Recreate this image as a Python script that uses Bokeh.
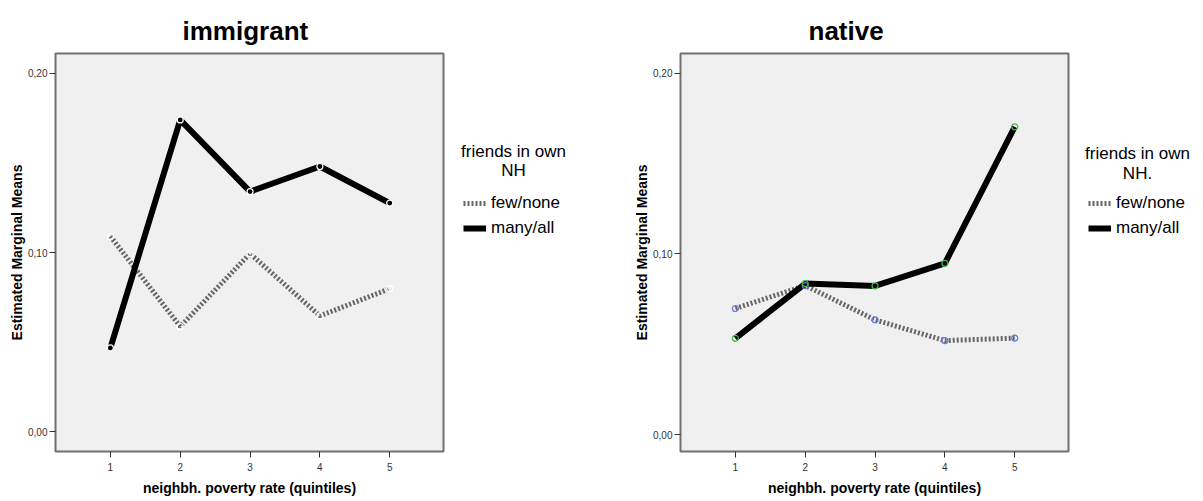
from bokeh.plotting import figure
from bokeh.layouts import row
from bokeh.models import Range1d, FixedTicker, CustomJSTickFormatter, Legend, LegendItem, Label
from bokeh.embed import file_html
from bokeh.resources import INLINE

# ---- data ----
quintiles = [1, 2, 3, 4, 5]
imm_few = [0.109, 0.0587, 0.0994, 0.0646, 0.0798]
imm_many = [0.0467, 0.174, 0.134, 0.148, 0.1276]
nat_few = [0.0698, 0.0825, 0.0635, 0.052, 0.0534]
nat_many = [0.0533, 0.0836, 0.0823, 0.0948, 0.1704]
y_ticks = [0.0, 0.1, 0.2]
series_labels = ["few/none", "many/all"]
legend_title = "friends in own"

FONT = "Liberation Sans"
FIG_H = 498
TOP = 53
FRAME_H = 400
BOTTOM = FIG_H - TOP - FRAME_H          # 45
FRAME_BOTTOM = TOP + FRAME_H            # 453 (page y of frame bottom)
FEW_STYLE = dict(line_color="#656565", line_width=5, line_dash="2 2")
MANY_STYLE = dict(line_color="black", line_width=6)


def make_panel(title, title_offset, few, many, left, y_lo, y_hi,
               few_mark, many_mark, many_fill):
    width = left + 388 + 2
    p = figure(width=width, height=FIG_H, output_backend="svg", toolbar_location=None,
               x_range=Range1d(0.214, 5.77), y_range=Range1d(y_lo, y_hi),
               min_border_left=left, min_border_right=2,
               min_border_top=TOP, min_border_bottom=BOTTOM)
    p.title.text = title
    p.title.align = "left"
    p.title.offset = title_offset
    p.title.standoff = 12
    p.title.vertical_align = "top"
    p.title.text_font = FONT
    p.title.text_font_size = "26px"
    p.title.text_font_style = "bold"
    p.title.text_color = "black"
    p.background_fill_color = "#f0f0f0"
    p.border_fill_color = "white"
    p.outline_line_color = "#707070"
    p.outline_line_width = 2
    p.grid.visible = False

    p.xaxis.ticker = FixedTicker(ticks=quintiles)
    p.yaxis.ticker = FixedTicker(ticks=y_ticks)
    p.yaxis.formatter = CustomJSTickFormatter(code="return tick.toFixed(2).replace('.', ',');")
    for ax in (p.xaxis, p.yaxis):
        ax.axis_line_color = None
        ax.major_tick_in = 0
        ax.major_tick_out = 6
        ax.major_tick_line_color = "#333333"
        ax.major_tick_line_width = 1
        ax.minor_tick_line_color = None
        ax.major_label_text_font = FONT
        ax.major_label_text_font_size = "10px"
        ax.major_label_text_color = "#333333"
        ax.axis_label_text_font = FONT
        ax.axis_label_text_font_size = "14px"
        ax.axis_label_text_font_style = "bold"
        ax.axis_label_text_color = "black"
    p.xaxis.axis_label = "neighbh. poverty rate (quintiles)"
    p.yaxis.axis_label = "Estimated Marginal Means"
    p.xaxis.major_label_standoff = 5
    p.yaxis.major_label_standoff = 2
    p.xaxis.axis_label_standoff = 6
    p.yaxis.axis_label_standoff = 0

    p.line(quintiles, few, **FEW_STYLE)
    p.line(quintiles, many, **MANY_STYLE)
    p.scatter(quintiles, few, size=6, fill_color=None, line_color=few_mark, line_width=1.2)
    p.scatter(quintiles, many, size=6, fill_color=many_fill, line_color=many_mark, line_width=1.2)
    return p


def make_legend(width, few, many, title_x, title_y, nh_label, nh_y, glyph_x):
    # separate panel for the key; its own data lies outside its ranges, only the key shows
    lp = figure(width=width, height=FIG_H, output_backend="svg", toolbar_location=None,
                x_range=Range1d(-2, -1), y_range=Range1d(-2, -1),
                x_axis_location=None, y_axis_location=None,
                min_border_left=0, min_border_right=0,
                min_border_top=TOP, min_border_bottom=BOTTOM)
    lp.grid.visible = False
    lp.outline_line_color = None
    lp.background_fill_color = "white"
    lp.border_fill_color = "white"
    r_few = lp.line(quintiles, few, **FEW_STYLE)
    r_many = lp.line(quintiles, many, **MANY_STYLE)
    legend = Legend(items=[LegendItem(label=series_labels[0], renderers=[r_few]),
                           LegendItem(label=series_labels[1], renderers=[r_many])],
                    location=(glyph_x, FRAME_BOTTOM - 240), padding=0, margin=0,
                    spacing=5, glyph_width=23, glyph_height=20, label_height=20,
                    label_standoff=5, border_line_color=None, background_fill_alpha=0,
                    label_text_font=FONT, label_text_font_size="17px",
                    label_text_color="black")
    lp.add_layout(legend)
    lp.add_layout(Label(x=title_x, y=FRAME_BOTTOM - title_y, x_units="screen", y_units="screen",
                        text=legend_title, text_align="center", text_baseline="middle",
                        text_font=FONT, text_font_size="17px", text_color="black"))
    lp.add_layout(Label(x=title_x, y=FRAME_BOTTOM - nh_y, x_units="screen", y_units="screen",
                        text=nh_label, text_align="center", text_baseline="middle",
                        text_font=FONT, text_font_size="17px", text_color="black"))
    return lp


p1 = make_panel("immigrant", 127, imm_few, imm_many, 55, -0.0111, 0.2111,
                "white", "white", "black")
l1 = make_legend(155, imm_few, imm_many, 68, 153, "NH", 172, 18)
p2 = make_panel("native", 128, nat_few, nat_many, 80, -0.0094, 0.211,
                "#6677dd", "#44bb44", None)
l2 = make_legend(130, nat_few, nat_many, 67, 155, "NH.", 175, 18)

layout = row(p1, l1, p2, l2, spacing=0)
open("out.html", "w").write(file_html(layout, INLINE))
